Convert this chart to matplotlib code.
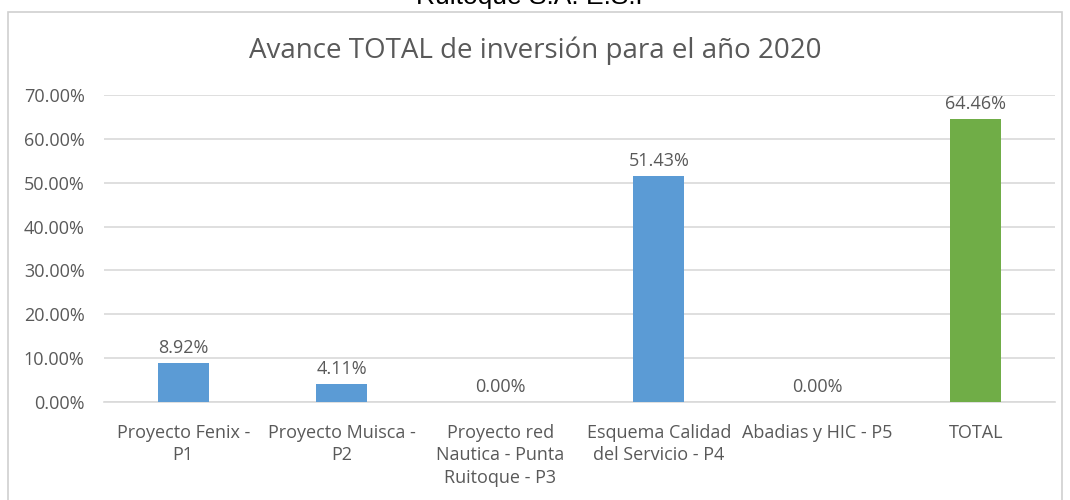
import matplotlib.pyplot as plt
import matplotlib.patches as mpatches
from matplotlib.ticker import FuncFormatter

categorias = ["Proyecto Fenix -\nP1", "Proyecto Muisca -\nP2", "Proyecto red\nNautica - Punta\nRuitoque - P3",
              "Esquema Calidad\ndel Servicio - P4", "Abadias y HIC - P5", "TOTAL"]
avance = [8.92, 4.11, 0.00, 51.43, 0.00, 64.46]
colores = ["#5B9BD5"] * 5 + ["#70AD47"]
titulo = "Avance TOTAL de inversión para el año 2020"
gris = "#595959"

plt.rcParams['font.family'] = ['Open Sans', 'DejaVu Sans']

fig = plt.figure(figsize=(10.7, 5), dpi=100)
# marco del grafico
fig.patches.append(mpatches.Rectangle((8/1070, -0.05), 1054/1070, 1.05 - 12/500, transform=fig.transFigure,
                                      fill=False, edgecolor="#D0D0D0", linewidth=1.2))
fig.text(0.5, 0.982, "Ruitoque S.A. E.S.P", ha='center', va='bottom', fontsize=19,
         family='Liberation Sans', color='black')
fig.text(0.5, 0.898, titulo, ha='center', va='center', fontsize=20, color=gris)

ax = fig.add_axes([104/1070, 1 - 402/500, (1055 - 104)/1070, (402 - 95)/500])
x = range(len(categorias))
ax.bar(x, avance, width=0.32, color=colores, zorder=3)
for i, v in enumerate(avance):
    ax.text(i, v + 1.4, "%.2f%%" % v, ha='center', va='bottom', fontsize=13, color=gris)

ax.set_ylim(0, 70)
ax.set_xlim(-0.5, len(categorias) - 0.5)
ax.set_yticks(range(0, 71, 10))
ax.yaxis.set_major_formatter(FuncFormatter(lambda v, p: "%.2f%%" % v))
ax.set_xticks(list(x))
ax.set_xticklabels(categorias, fontsize=13, color=gris, linespacing=1.3)
ax.tick_params(axis='y', labelsize=13, labelcolor=gris, length=0, pad=14)
ax.tick_params(axis='x', length=0, pad=16)
ax.grid(axis='y', color="#D9D9D9", linewidth=1.2, zorder=0)
for s in ['top', 'right', 'left']:
    ax.spines[s].set_visible(False)
ax.spines['bottom'].set_color("#D9D9D9")
ax.spines['bottom'].set_linewidth(1.2)

fig.savefig("out.png", dpi=100)
